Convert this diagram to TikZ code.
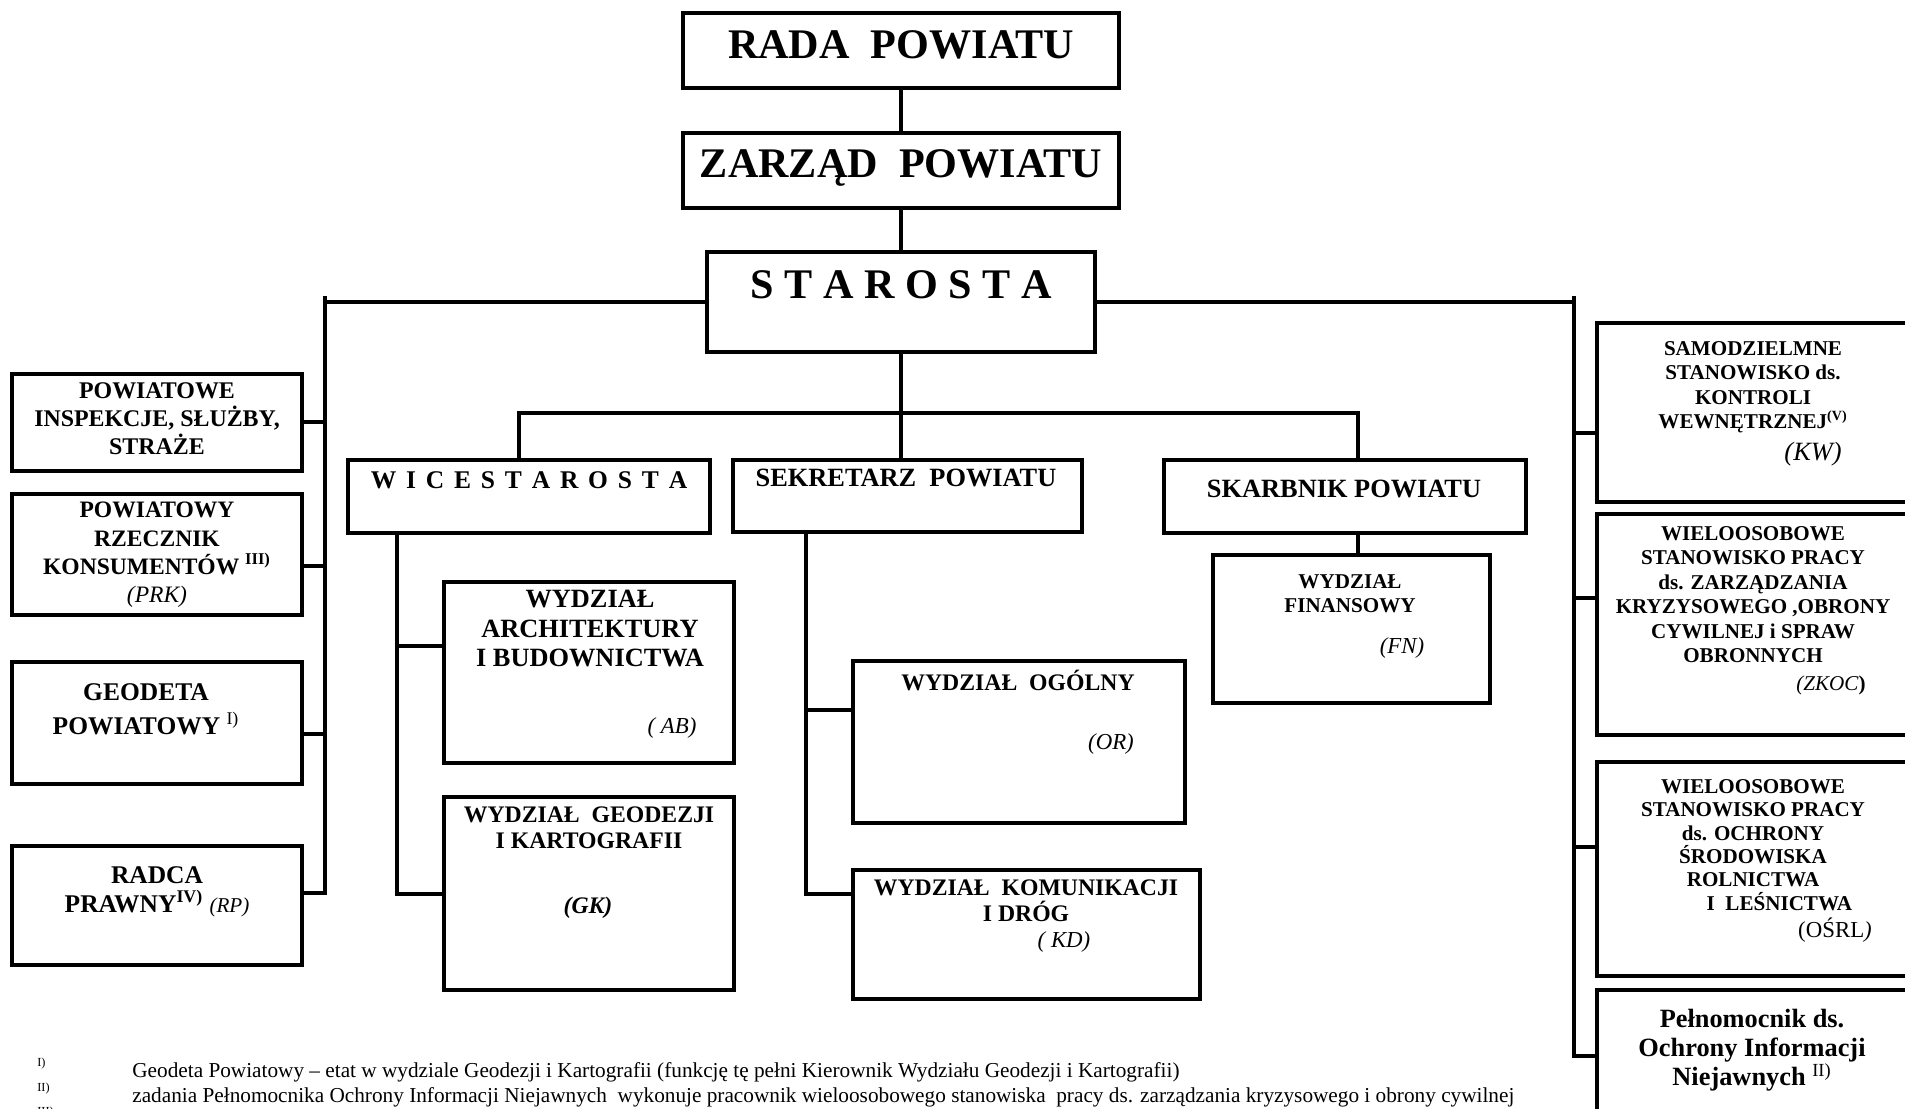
\documentclass[tikz,border=0pt]{standalone}
\usepackage{fontspec}
\setmainfont{Liberation Serif}
\usepackage{graphicx}
\usetikzlibrary{fit, positioning}

\newcommand{\fsz}[2]{\fontsize{#1}{#2}\selectfont}

\begin{document}
\begin{tikzpicture}[x=0.02cm, y=-0.02cm,
        box/.style={draw, line width=2pt, inner sep=0pt},
        wire/.style={line width=2.3pt},
        txt/.style={inner sep=0pt, align=center, anchor=north},
        code/.style={inner sep=0pt, anchor=base}]
    \useasboundingbox (0,0) rectangle (1905,1108);

    % top of the chart
    \node[box, line width=2.8pt, fit={(683,13) (1119,88)}]   (rada)  {};
    \node[box, line width=2.8pt, fit={(683,133) (1119,208)}] (zarz)  {};
    \node[box, line width=2.8pt, fit={(707,252) (1095,352)}] (star)  {};
    \node[txt, font=\bfseries\fsz{24}{28}] (radat) at (901,30)  {RADA\ \ POWIATU};
    \node[txt, font=\bfseries\fsz{24}{28}] (zarzt) at (901,149) {ZARZĄD\ \ POWIATU};
    \node[txt, font=\bfseries\fsz{24}{28}] (start) at (901,270) {S T A R O S T A};

    % left column
    \node[box, fit={(12,374) (302,471)}] (pow)   {};
    \node[box, fit={(12,494) (302,615)}] (rk)    {};
    \node[box, fit={(12,662) (302,784)}] (geo)   {};
    \node[box, fit={(12,846) (302,965)}] (radca) {};
    \node[txt, font=\bfseries\fsz{13.6}{16}] (powt) at (157,382)
        {POWIATOWE\\INSPEKCJE, SŁUŻBY,\\STRAŻE};
    \node[txt, font=\bfseries\fsz{13.4}{16}] (rkt) at (157,502)
        {POWIATOWY\\RZECZNIK\\KONSUMENTÓW \textsuperscript{III)}\\{\mdseries\itshape (PRK)}};
    \node[txt, font=\bfseries\fsz{14.5}{19.3}] (geot) at (146,683)
        {GEODETA\\POWIATOWY \textsuperscript{\mdseries I)}};
    \node[txt, font=\bfseries\fsz{14.5}{16.4}] (radcat) at (157,866)
        {RADCA\\PRAWNY\textsuperscript{IV)} {\mdseries\itshape\fsz{12}{13}(RP)}};

    % deputies
    \node[box, fit={(348,460) (710,533)}]   (wice)  {};
    \node[box, fit={(733,460) (1082,532)}]  (sek)   {};
    \node[box, fit={(1164,460) (1526,533)}] (skarb) {};
    \node[txt, font=\bfseries\fsz{14.5}{16}] (wicet) at (529,471)
        {\spaceskip=5.6pt W I C E S T A R O S T A};
    \node[txt, font=\bfseries\fsz{15}{17}] (sekt) at (906,469) {SEKRETARZ\ \ POWIATU};
    \node[txt, font=\bfseries\fsz{15}{17}] (skarbt) at (1344,480) {SKARBNIK POWIATU};

    % departments
    \node[box, fit={(444,582) (734,763)}]   (arch) {};
    \node[box, fit={(444,797) (734,990)}]   (gk)   {};
    \node[box, fit={(853,661) (1185,823)}]  (ogol) {};
    \node[box, fit={(853,870) (1200,999)}]  (kom)  {};
    \node[box, fit={(1213,555) (1490,703)}] (fin)  {};
    \node[txt, font=\bfseries\fsz{15}{16.7}] (archt) at (590,590)
        {WYDZIAŁ\\ARCHITEKTURY\\I BUDOWNICTWA};
    \node[code, font=\itshape\fsz{13}{15}] (archc) at (672,733) {( AB)};
    \node[txt, font=\bfseries\fsz{13.5}{15.3}] (gkt) at (589,806)
        {WYDZIAŁ\ \ GEODEZJI\\I KARTOGRAFII};
    \node[code, font=\bfseries\itshape\fsz{13.5}{15}] (gkc) at (588,913) {(GK)};
    \node[txt, font=\bfseries\fsz{13.5}{15.3}] (ogolt) at (1018,670) {WYDZIAŁ\ \ OGÓLNY};
    \node[code, font=\itshape\fsz{13}{15}] (ogolc) at (1111,749) {(OR)};
    \node[txt, font=\bfseries\fsz{13.5}{15.3}] (komt) at (1026,879)
        {WYDZIAŁ\ \ KOMUNIKACJI\\I DRÓG};
    \node[code, font=\itshape\fsz{13}{15}] (komc) at (1064,947) {( KD)};
    \node[txt, font=\bfseries\fsz{12}{13.6}] (fint) at (1350,574) {WYDZIAŁ\\FINANSOWY};
    \node[code, font=\itshape\fsz{13}{15}] (finc) at (1402,653) {(FN)};

    % right column
    \node[box, fit={(1597,323) (1912,502)}]  (kw)   {};
    \node[box, fit={(1597,514) (1912,735)}]  (zkoc) {};
    \node[box, fit={(1597,762) (1912,976)}]  (osrl) {};
    \node[box, fit={(1597,990) (1912,1130)}] (pel)  {};
    \node[txt, font=\bfseries\fsz{12}{13.9}] (kwt) at (1753,341)
        {SAMODZIELMNE\\STANOWISKO ds.\\KONTROLI\\WEWNĘTRZNEJ\textsuperscript{(V)}};
    \node[code, font=\itshape\fsz{15}{17}] (kwc) at (1813,460) {(KW)};
    \node[txt, font=\bfseries\fsz{12}{13.9}] (zkoct) at (1753,526)
        {WIELOOSOBOWE\\STANOWISKO PRACY\\ds. ZARZĄDZANIA\\KRYZYSOWEGO ,OBRONY\\CYWILNEJ i SPRAW\\OBRONNYCH};
    \node[code, font=\fsz{12}{14}] (zkocc) at (1831,690) {\textit{(ZKOC}\textbf{)}};
    \node[txt, font=\bfseries\fsz{12}{13.3}] (osrlt) at (1753,779)
        {WIELOOSOBOWE\\STANOWISKO PRACY\\ds. OCHRONY\\ŚRODOWISKA\\ROLNICTWA\\\hspace*{30pt}I\ \ LEŚNICTWA};
    \node[code, font=\fsz{13}{15}] (osrlc) at (1835,937) {(OŚRL\textit{)}};
    \node[txt, font=\bfseries\fsz{15}{16.4}] (pelt) at (1752,1009)
        {Pełnomocnik ds.\\Ochrony Informacji\\Niejawnych \textsuperscript{\mdseries II)}};

    % joints of the lines
    \coordinate (ltop) at (325,302);
    \coordinate (rtop) at (1574,302);
    \coordinate (lcap) at (325,296);
    \coordinate (rcap) at (1574,296);
    \coordinate (l1) at (325,422);
    \coordinate (l2) at (325,566);
    \coordinate (l3) at (325,734);
    \coordinate (l4) at (325,893);
    \coordinate (r1) at (1574,433);
    \coordinate (r2) at (1574,598);
    \coordinate (r3) at (1574,847);
    \coordinate (r4) at (1574,1056);
    \coordinate (mleft)  at (519,413);
    \coordinate (mright) at (1358,413);
    \coordinate (w1) at (397,646);
    \coordinate (w2) at (397,894);
    \coordinate (s1) at (806,710);
    \coordinate (s2) at (806,894);

    \draw[wire] (rada) -- (zarz);
    \draw[wire] (zarz) -- (star);
    \draw[wire] (star) -- (ltop);
    \draw[wire] (lcap) -- (l4) -- (l4 -| radca.east);
    \draw[wire] (star) -- (rtop);
    \draw[wire] (rcap) -- (r4) -- (r4 -| pel.west);
    \draw[wire] (l1) -- (l1 -| pow.east);
    \draw[wire] (l2) -- (l2 -| rk.east);
    \draw[wire] (l3) -- (l3 -| geo.east);
    \draw[wire] (r1) -- (r1 -| kw.west);
    \draw[wire] (r2) -- (r2 -| zkoc.west);
    \draw[wire] (r3) -- (r3 -| osrl.west);

    \draw[wire] (star.south) -- (star.south |- sek.north);
    \draw[wire] (mleft |- wice.north) -- (mleft) -- (mright) -- (mright |- skarb.north);
    \draw[wire] (mright |- skarb.south) -- (mright |- fin.north);

    \draw[wire] (w1 |- wice.south) -- (w2) -- (w2 -| gk.west);
    \draw[wire] (w1) -- (w1 -| arch.west);
    \draw[wire] (s1 |- sek.south) -- (s2) -- (s2 -| kom.west);
    \draw[wire] (s1) -- (s1 -| ogol.west);

    % footnotes
    \node[code, anchor=base west, font=\fsz{7}{8}] (m1) at (37,1066) {I)};
    \node[code, anchor=base west, font=\fsz{7}{8}] (m2) at (37,1091) {II)};
    \node[code, anchor=base west, font=\fsz{7}{8}] (m3) at (37,1115) {III)};
    \node[code, anchor=base west, font=\fsz{12.1}{14}] (f1) at (132,1077)
        {Geodeta Powiatowy – etat w wydziale Geodezji i Kartografii (funkcję tę pełni Kierownik Wydziału Geodezji i Kartografii)};
    \node[code, anchor=base west, font=\fsz{12.1}{14}] (f2) at (132,1102)
        {zadania Pełnomocnika Ochrony Informacji Niejawnych\ \ wykonuje pracownik wieloosobowego stanowiska\ \ pracy ds. zarządzania kryzysowego i obrony cywilnej};
\end{tikzpicture}
\end{document}
